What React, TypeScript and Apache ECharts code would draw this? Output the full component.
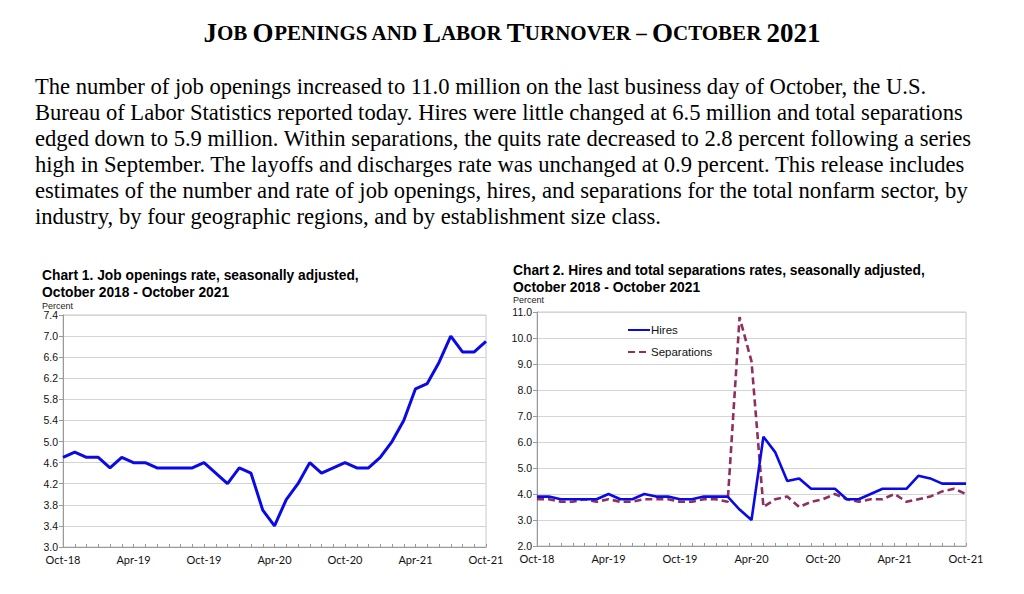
import React, { useEffect, useRef } from "react";
import * as echarts from "echarts";

const months: string[] = [
  "Oct-18", "Nov-18", "Dec-18", "Jan-19", "Feb-19", "Mar-19", "Apr-19", "May-19", "Jun-19", "Jul-19", "Aug-19", "Sep-19",
  "Oct-19", "Nov-19", "Dec-19", "Jan-20", "Feb-20", "Mar-20", "Apr-20", "May-20", "Jun-20", "Jul-20", "Aug-20", "Sep-20",
  "Oct-20", "Nov-20", "Dec-20", "Jan-21", "Feb-21", "Mar-21", "Apr-21", "May-21", "Jun-21", "Jul-21", "Aug-21", "Sep-21",
  "Oct-21",
];

const jobOpenings: number[] = [
  4.7, 4.8, 4.7, 4.7, 4.5, 4.7, 4.6, 4.6, 4.5, 4.5, 4.5, 4.5,
  4.6, 4.4, 4.2, 4.5, 4.4, 3.7, 3.4, 3.9, 4.2, 4.6, 4.4, 4.5,
  4.6, 4.5, 4.5, 4.7, 5.0, 5.4, 6.0, 6.1, 6.5, 7.0, 6.7, 6.7,
  6.9,
];

const hires: number[] = [
  3.9, 3.9, 3.8, 3.8, 3.8, 3.8, 4.0, 3.8, 3.8, 4.0, 3.9, 3.9,
  3.8, 3.8, 3.9, 3.9, 3.9, 3.4, 3.0, 6.2, 5.6, 4.5, 4.6, 4.2,
  4.2, 4.2, 3.8, 3.8, 4.0, 4.2, 4.2, 4.2, 4.7, 4.6, 4.4, 4.4,
  4.4,
];

const separations: number[] = [
  3.8, 3.8, 3.7, 3.7, 3.8, 3.7, 3.8, 3.7, 3.7, 3.8, 3.8, 3.8,
  3.7, 3.7, 3.8, 3.8, 3.7, 10.8, 9.1, 3.5, 3.8, 3.9, 3.5, 3.7,
  3.8, 4.0, 3.8, 3.7, 3.8, 3.8, 4.0, 3.7, 3.8, 3.9, 4.1, 4.2,
  4.0,
];

const paragraphLines: string[] = [
  "The number of job openings increased to 11.0 million on the last business day of October, the U.S.",
  "Bureau of Labor Statistics reported today. Hires were little changed at 6.5 million and total separations",
  "edged down to 5.9 million. Within separations, the quits rate decreased to 2.8 percent following a series",
  "high in September. The layoffs and discharges rate was unchanged at 0.9 percent. This release includes",
  "estimates of the number and rate of job openings, hires, and separations for the total nonfarm sector, by",
  "industry, by four geographic regions, and by establishment size class.",
];

const chart1Title = "Chart 1. Job openings rate, seasonally adjusted,\nOctober 2018 - October 2021";
const chart2Title = "Chart 2. Hires and total separations rates, seasonally adjusted,\nOctober 2018 - October 2021";

const BLUE = "#0a0ae6";
const MAROON = "#8e2f5f";
const SANS = "Liberation Sans, Arial, sans-serif";
const SERIF = "Liberation Serif, Times New Roman, serif";

export default function App() {
  const ref = useRef<HTMLDivElement>(null);

  useEffect(() => {
    if (!ref.current) return;
    const chart = echarts.init(ref.current, undefined, { renderer: "svg" });

    const xAxisCommon = (gridIndex: number) => ({
      type: "category",
      gridIndex,
      data: months,
      boundaryGap: false,
      axisLine: { show: true, lineStyle: { color: "#9a9a9a", width: 1 } },
      axisTick: { show: true, inside: true, length: 3, interval: 0, lineStyle: { color: "#9a9a9a" } },
      axisLabel: {
        interval: 5,
        color: "#111",
        fontFamily: "Lato, Open Sans, sans-serif",
        fontSize: 11,
        margin: 7,
        showMaxLabel: true,
      },
      splitLine: { show: false },
    });

    const yAxisCommon = (gridIndex: number, min: number, max: number, interval: number) => ({
      type: "value",
      gridIndex,
      min,
      max,
      interval,
      axisLine: { show: true, lineStyle: { color: "#9a9a9a", width: 1 } },
      axisTick: { show: true, inside: false, length: 4, lineStyle: { color: "#9a9a9a" } },
      axisLabel: {
        color: "#111",
        fontFamily: SANS,
        fontSize: 10.5,
        margin: 5,
        formatter: (v: number) => v.toFixed(1),
      },
      splitLine: { show: true, lineStyle: { color: "#d4d4d4", width: 1 } },
    });

    const option: any = {
      animation: false,
      backgroundColor: "#ffffff",
      title: [
        {
          left: "center",
          top: 14,
          text:
            "{a|J}{b|OB }{a|O}{b|PENINGS AND }{a|L}{b|ABOR }{a|T}{b|URNOVER – }{a|O}{b|CTOBER }{a|2021}",
          textStyle: {
            rich: {
              a: { fontFamily: SERIF, fontWeight: "bold", fontSize: 27, color: "#000" },
              b: { fontFamily: SERIF, fontWeight: "bold", fontSize: 21, color: "#000" },
            },
          },
        },
        {
          left: 30,
          top: 68,
          text: paragraphLines.join("\n"),
          textStyle: { fontFamily: SERIF, fontWeight: "normal", fontSize: 22.6, lineHeight: 26, color: "#000" },
        },
        {
          left: 37,
          top: 262,
          text: chart1Title,
          textStyle: { fontFamily: SANS, fontWeight: "bold", fontSize: 13.8, lineHeight: 17, color: "#000" },
        },
        {
          left: 37,
          top: 296,
          text: "Percent",
          textStyle: { fontFamily: SANS, fontWeight: "normal", fontSize: 9, color: "#222" },
        },
        {
          left: 508,
          top: 257,
          text: chart2Title,
          textStyle: { fontFamily: SANS, fontWeight: "bold", fontSize: 13.8, lineHeight: 17, color: "#000" },
        },
        {
          left: 508,
          top: 290,
          text: "Percent",
          textStyle: { fontFamily: SANS, fontWeight: "normal", fontSize: 9, color: "#222" },
        },
      ],
      legend: {
        data: ["Hires", "Separations"],
        orient: "vertical",
        left: 622,
        top: 319,
        itemWidth: 22,
        itemHeight: 12,
        itemGap: 10,
        itemStyle: { opacity: 0, color: "rgba(0,0,0,0)", borderColor: "rgba(0,0,0,0)", borderWidth: 0 },
        textStyle: { fontFamily: SANS, fontSize: 11.5, color: "#111", padding: [0, 0, 0, -4] },
      },
      grid: [
        { left: 63, top: 315, width: 423, height: 232, show: true, borderColor: "#c8c8c8", borderWidth: 1, backgroundColor: "transparent" },
        { left: 537, top: 312, width: 429, height: 234, show: true, borderColor: "#c8c8c8", borderWidth: 1, backgroundColor: "transparent" },
      ],
      xAxis: [xAxisCommon(0), xAxisCommon(1)],
      yAxis: [yAxisCommon(0, 3.0, 7.4, 0.4), yAxisCommon(1, 2, 11, 1)],
      series: [
        {
          name: "Job openings",
          type: "line",
          xAxisIndex: 0,
          yAxisIndex: 0,
          data: jobOpenings,
          symbol: "none",
          lineStyle: { color: BLUE, width: 3 },
          itemStyle: { color: BLUE },
        },
        {
          name: "Hires",
          type: "line",
          xAxisIndex: 1,
          yAxisIndex: 1,
          data: hires,
          symbol: "none",
          lineStyle: { color: BLUE, width: 2.6 },
          itemStyle: { color: BLUE },
          z: 3,
        },
        {
          name: "Separations",
          type: "line",
          xAxisIndex: 1,
          yAxisIndex: 1,
          data: separations,
          symbol: "none",
          lineStyle: { color: MAROON, width: 2.6, type: [7, 4] },
          itemStyle: { color: MAROON },
          z: 2,
        },
      ],
    };

    chart.setOption(option);
    return () => chart.dispose();
  }, []);

  return (
    <div
      ref={ref}
      style={{ position: "absolute", left: 0, top: 0, width: 1024, height: 594, background: "#fff" }}
    />
  );
}
